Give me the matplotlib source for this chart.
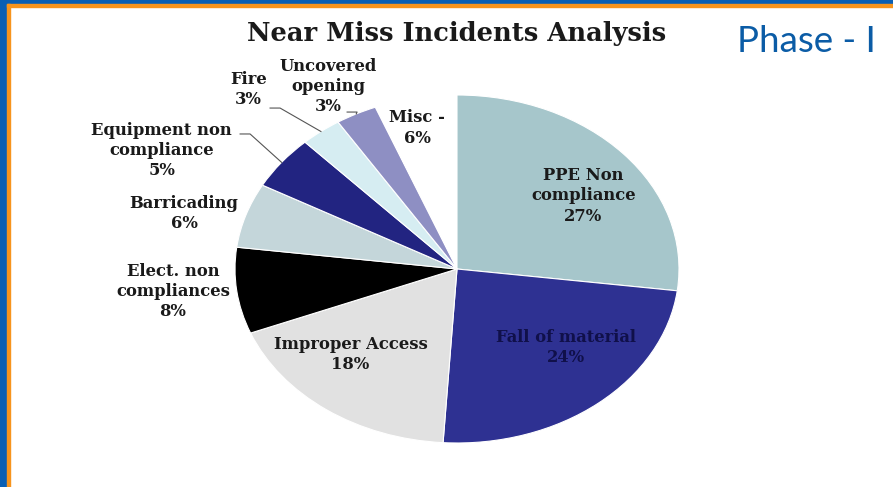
"""Near miss incidents pie chart, phase I."""
import numpy as np
import matplotlib.pyplot as plt
from matplotlib.patches import Rectangle

# Data (clockwise from the top)
categories = ["PPE Non\ncompliance", "Fall of material", "Improper Access", "Elect. non\ncompliances",
              "Barricading", "Equipment non\ncompliance", "Fire", "Uncovered\nopening", "Misc -"]
shares = [27, 24, 18, 8, 6, 5, 3, 3, 6]

colors = ["#a6c6cb", "#2e3192", "#e1e1e1", "#000000", "#c4d6da", "#222481", "#d6edf2", "#8e8fc3", "#ffffff"]

# label centres in axes data units (pie radius = 1)
label_pos = [(0.57, 0.42), (0.49, -0.45), (-0.48, -0.49), (-1.28, -0.13),
             (-1.23, 0.32), (-1.33, 0.68), (-0.94, 1.03), (-0.58, 1.05), (-0.18, 0.81)]
# leader line start points (label end) for small outer slices
leaders = {5: (-0.977, 0.776), 6: (-0.842, 0.925), 7: (-0.495, 0.902)}

W, H = 893, 487
fig = plt.figure(figsize=(W / 100, H / 100), dpi=100)

# slide frame: blue band + orange line
fig.patches.append(Rectangle((0, 0), 7 / W, 1, transform=fig.transFigure, color="#0a5fb4", zorder=0))
fig.patches.append(Rectangle((0, 1 - 4 / H), 1, 4 / H, transform=fig.transFigure, color="#0a5fb4", zorder=0))
fig.patches.append(Rectangle((7 / W, 0), 2.5 / W, 1 - 4 / H, transform=fig.transFigure, color="#f7941d", zorder=1))
fig.patches.append(Rectangle((7 / W, 1 - 6.5 / H), 1, 2.5 / H, transform=fig.transFigure, color="#f7941d", zorder=1))

# pie is stretched horizontally (centre 457,269; rx 222, ry 174)
ax = fig.add_axes([235 / W, 1 - 443 / H, 444 / W, 348 / H])
wedges, _ = ax.pie(shares, colors=colors, startangle=90, counterclock=False,
                   wedgeprops=dict(edgecolor="white", linewidth=0.8))
wedges[-1].set_edgecolor("none")
ax.set_aspect("auto")
ax.set_xlim(-1, 1)
ax.set_ylim(-1, 1)
ax.axis("off")

serif = ["DejaVu Serif"]
for i, (name, val) in enumerate(zip(categories, shares)):
    x, y = label_pos[i]
    tc = "#10104a" if i == 1 else "#1a1a1a"
    ax.text(x, y, f"{name}\n{val}%", ha="center", va="center", family=serif,
            fontweight="bold", fontsize=11.8, color=tc, linespacing=1.25, clip_on=False)

# leader lines
for i, (sx, sy) in leaders.items():
    w = wedges[i]
    mid = np.deg2rad((w.theta1 + w.theta2) / 2)
    ex, ey = np.cos(mid), np.sin(mid)
    ax.plot([sx, sx + 0.045, ex], [sy, sy, ey], color="#555555", lw=0.8, clip_on=False)

fig.text(457 / W, 1 - 34 / H, "Near Miss Incidents Analysis", ha="center", va="center",
         family=serif, fontweight="bold", fontsize=18.5, color="#1a1a1a")
fig.text(806 / W, 1 - 42 / H, "Phase - I", ha="center", va="center",
         family="Lato", fontsize=26.5, color="#0b5ca6")

fig.savefig("out.png", dpi=100)
